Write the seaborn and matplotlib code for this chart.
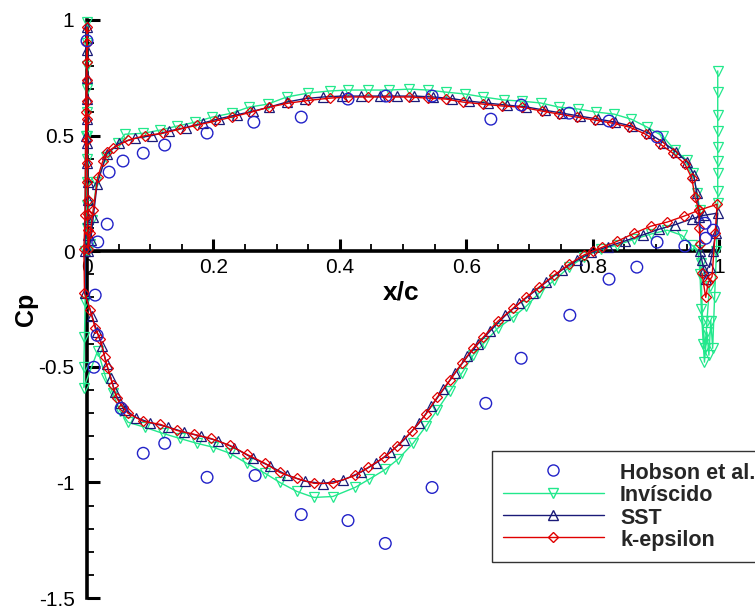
import matplotlib
matplotlib.use("Agg")
import matplotlib.pyplot as plt
from matplotlib.lines import Line2D
from matplotlib.ticker import MultipleLocator
import seaborn as sns
import pandas as pd

# ---------------- data ----------------
hobson_x = [0.0, 0.017, 0.032, 0.035, 0.057, 0.089, 0.123, 0.190, 0.264, 0.339, 0.413, 0.473,
            0.546, 0.639, 0.687, 0.763, 0.826, 0.902, 0.978, 0.991, 0.979, 0.946, 0.902, 0.870,
            0.826, 0.764, 0.687, 0.631, 0.546, 0.472, 0.413, 0.339, 0.266, 0.190, 0.123, 0.089,
            0.054, 0.011, 0.016, 0.013]
hobson_cp = [0.91, 0.04, 0.117, 0.342, 0.39, 0.424, 0.459, 0.511, 0.558, 0.58, 0.658, 0.671,
             0.671, 0.571, 0.632, 0.597, 0.563, 0.494, 0.121, 0.091, 0.056, 0.022, 0.039, -0.069,
             -0.121, -0.277, -0.463, -0.658, -1.022, -1.264, -1.165, -1.139, -0.97, -0.978, -0.831,
             -0.874, -0.68, -0.502, -0.364, -0.19]

# Invíscido: TE base -> pressure side -> LE -> suction side -> TE base spike
inv_x = [0.985, 0.981, 0.978, 0.974, 0.971,
         0.970, 0.965, 0.959, 0.949, 0.930, 0.911, 0.886, 0.861, 0.834, 0.805, 0.777, 0.747,
         0.718, 0.688, 0.660, 0.627, 0.598, 0.568, 0.540, 0.510, 0.478, 0.445, 0.413, 0.384,
         0.350, 0.316, 0.286, 0.256, 0.229, 0.198, 0.171, 0.142, 0.116, 0.089, 0.060, 0.049,
         0.030, 0.015, 0.008, 0.004,
         0.001, 0.0, 0.0, 0.0, 0.0, 0.0, 0.0, 0.0, 0.0, 0.0, 0.0,
         -0.002, -0.003, -0.003, -0.004, -0.005, -0.005,
         0.017, 0.030, 0.041, 0.052, 0.065, 0.092, 0.120, 0.147, 0.174, 0.200, 0.226, 0.253,
         0.282, 0.305, 0.332, 0.359, 0.389, 0.424, 0.446, 0.472, 0.492, 0.516, 0.536, 0.554,
         0.574, 0.593, 0.611, 0.628, 0.650, 0.674, 0.695, 0.715, 0.739, 0.763, 0.786, 0.813,
         0.839, 0.866, 0.892, 0.918, 0.941, 0.957, 0.967,
         0.970, 0.972, 0.975, 0.977, 0.981, 0.984, 0.987, 0.990, 0.993, 0.996,
         0.998, 0.998, 0.998, 0.998, 0.998, 0.998, 0.998, 0.998, 0.998]
inv_cp = [-0.15, -0.30, -0.42, -0.30, -0.05,
          0.177, 0.251, 0.338, 0.394, 0.437, 0.498, 0.537, 0.571, 0.593, 0.602, 0.615, 0.623,
          0.641, 0.649, 0.654, 0.667, 0.680, 0.688, 0.697, 0.701, 0.697, 0.697, 0.697, 0.693,
          0.684, 0.667, 0.636, 0.623, 0.597, 0.580, 0.558, 0.541, 0.524, 0.510, 0.506, 0.468,
          0.407, 0.30, 0.134, 0.03,
          0.0, 0.10, 0.20, 0.30, 0.40, 0.50, 0.60, 0.70, 0.80, 0.90, 0.99,
          0.50, 0.0, -0.22, -0.37, -0.50, -0.59,
          -0.43, -0.55, -0.615, -0.69, -0.74, -0.762, -0.788, -0.81, -0.831, -0.848, -0.874, -0.918,
          -0.961, -1.0, -1.039, -1.065, -1.061, -1.022, -0.987, -0.944, -0.90, -0.831, -0.758, -0.688,
          -0.606, -0.528, -0.45, -0.398, -0.333, -0.286, -0.238, -0.182, -0.126, -0.069, -0.026, 0.009,
          0.026, 0.052, 0.074, 0.091, 0.069, 0.026, 0.004,
          -0.10, -0.25, -0.40, -0.48, -0.35, -0.45, -0.30, -0.42, -0.20, 0.0,
          0.21, 0.26, 0.34, 0.39, 0.45, 0.52, 0.59, 0.69, 0.78]

# SST
sst_x = [0.980, 0.976, 0.973,
         0.970, 0.969, 0.965, 0.960, 0.950, 0.932, 0.912, 0.889, 0.863, 0.836, 0.808, 0.780,
         0.752, 0.724, 0.695, 0.664, 0.635, 0.605, 0.577, 0.548, 0.518, 0.490, 0.463, 0.434,
         0.404, 0.374, 0.345, 0.316, 0.288, 0.262, 0.237, 0.209, 0.183, 0.156, 0.130, 0.103,
         0.076, 0.050, 0.031, 0.016, 0.010, 0.006,
         0.002, 0.001, 0.001, 0.001, 0.001, 0.0005, 0.0005, 0.0, 0.0, 0.0, 0.0, 0.0,
         -0.002, -0.003, -0.003,
         0.008, 0.016, 0.024, 0.031, 0.038, 0.044, 0.052, 0.060, 0.078, 0.100, 0.128, 0.154,
         0.180, 0.207, 0.233, 0.262, 0.290, 0.316, 0.345, 0.373, 0.405, 0.434, 0.458, 0.480,
         0.502, 0.525, 0.545, 0.564, 0.583, 0.602, 0.619, 0.638, 0.662, 0.684, 0.705, 0.727,
         0.751, 0.775, 0.798, 0.824, 0.852, 0.879, 0.905, 0.931, 0.957, 0.976, 0.998,
         0.995, 0.990, 0.985]
sst_cp = [-0.12, -0.08, -0.04,
          0.00, 0.15, 0.25, 0.33, 0.385, 0.43, 0.47, 0.51, 0.54, 0.558, 0.572, 0.584,
          0.597, 0.610, 0.624, 0.632, 0.640, 0.649, 0.660, 0.667, 0.671, 0.671, 0.671, 0.671,
          0.671, 0.667, 0.660, 0.645, 0.623, 0.605, 0.590, 0.573, 0.554, 0.535, 0.52, 0.50,
          0.488, 0.466, 0.42, 0.29, 0.15, 0.05,
          0.0, 0.07, 0.14, 0.22, 0.30, 0.38, 0.47, 0.57, 0.66, 0.75, 0.87, 0.97,
          0.50, 0.0, -0.18,
          -0.28, -0.35, -0.41, -0.49, -0.55, -0.61, -0.655, -0.685, -0.72, -0.742, -0.76, -0.783,
          -0.80, -0.82, -0.85, -0.895, -0.93, -0.968, -0.995, -1.005, -0.99, -0.955, -0.915, -0.87,
          -0.815, -0.745, -0.67, -0.598, -0.525, -0.455, -0.40, -0.345, -0.278, -0.226, -0.18, -0.133,
          -0.082, -0.04, -0.005, 0.02, 0.045, 0.07, 0.095, 0.115, 0.14, 0.155, 0.165,
          0.08, 0.0, -0.07]

# k-epsilon
ke_x = [0.970, 0.969, 0.968, 0.962, 0.957, 0.946, 0.927, 0.907, 0.884, 0.858, 0.831, 0.804,
        0.775, 0.747, 0.720, 0.688, 0.657, 0.627, 0.595, 0.568, 0.540, 0.509, 0.478, 0.445,
        0.413, 0.384, 0.350, 0.318, 0.288, 0.258, 0.229, 0.203, 0.174, 0.147, 0.120, 0.092,
        0.065, 0.041, 0.032, 0.025, 0.017, 0.010, 0.005,
        0.002, 0.001, 0.001, 0.001, 0.0005, 0.0005, 0.0, 0.0, 0.0, 0.0, 0.0, 0.0, 0.0,
        -0.002, -0.003, -0.005, -0.004,
        0.005, 0.013, 0.021, 0.028, 0.033, 0.041, 0.047, 0.057, 0.065, 0.089, 0.116, 0.142,
        0.169, 0.196, 0.226, 0.253, 0.282, 0.305, 0.332, 0.359, 0.389, 0.424, 0.445, 0.470,
        0.490, 0.514, 0.536, 0.554, 0.574, 0.593, 0.611, 0.627, 0.650, 0.674, 0.695, 0.715,
        0.739, 0.763, 0.786, 0.800, 0.815, 0.839, 0.866, 0.892, 0.918, 0.945, 0.968, 0.997,
        0.994, 0.989, 0.983, 0.979, 0.973]
ke_cp = [0.03, 0.10, 0.177, 0.234, 0.316, 0.377, 0.424, 0.463, 0.506, 0.537, 0.554, 0.567,
         0.580, 0.593, 0.606, 0.623, 0.628, 0.636, 0.645, 0.658, 0.662, 0.667, 0.667, 0.667,
         0.667, 0.662, 0.652, 0.640, 0.623, 0.600, 0.580, 0.563, 0.545, 0.528, 0.510, 0.500,
         0.480, 0.446, 0.430, 0.390, 0.320, 0.18, 0.08,
         0.01, 0.09, 0.16, 0.22, 0.30, 0.38, 0.48, 0.57, 0.65, 0.74, 0.82, 0.90, 0.97,
         0.60, 0.156, 0.01, -0.18,
         -0.255, -0.333, -0.381, -0.459, -0.506, -0.580, -0.636, -0.675, -0.701, -0.736, -0.749, -0.775,
         -0.792, -0.810, -0.840, -0.879, -0.918, -0.957, -0.983, -1.004, -1.004, -0.970, -0.935, -0.892,
         -0.844, -0.779, -0.706, -0.632, -0.558, -0.485, -0.420, -0.372, -0.303, -0.247, -0.199, -0.156,
         -0.104, -0.056, -0.017, 0.0, 0.017, 0.043, 0.078, 0.108, 0.126, 0.152, 0.177, 0.203,
         0.08, -0.11, -0.134, -0.20, -0.095]

labels = ["Hobson et al.", "Invíscido", "SST", "k-epsilon"]
x_ticks = [0, 0.2, 0.4, 0.6, 0.8, 1]
x_ticklabels = ["0", "0.2", "0.4", "0.6", "0.8", "1"]
y_ticks = [-1.5, -1, -0.5, 0, 0.5, 1]
y_ticklabels = ["-1.5", "-1", "-0.5", "0", "0.5", "1"]

# ---------------- styling ----------------
sns.set_theme(style="white")
plt.rcParams["font.family"] = ["Liberation Sans", "DejaVu Sans"]

c_hob = "#2222c8"
c_inv = "#22e88c"
c_sst = "#1a1a78"
c_ke = "#e00000"

fig = plt.figure(figsize=(7.55, 6.08), dpi=100)
ax = fig.add_axes([87 / 755, 1 - 598 / 608, 632 / 755, 578 / 608])

df_inv = pd.DataFrame({"x": inv_x, "cp": inv_cp})
df_sst = pd.DataFrame({"x": sst_x, "cp": sst_cp})
df_ke = pd.DataFrame({"x": ke_x, "cp": ke_cp})
df_hob = pd.DataFrame({"x": hobson_x, "cp": hobson_cp})

common = dict(sort=False, estimator=None, legend=False, ax=ax, clip_on=False,
              linewidth=1.0, markerfacecolor="none", markeredgewidth=0.9)
sns.lineplot(data=df_inv, x="x", y="cp", color=c_inv, marker="v", markersize=6.5,
             markeredgecolor=c_inv, zorder=3, **common)
sns.lineplot(data=df_sst, x="x", y="cp", color=c_sst, marker="^", markersize=6.5,
             markeredgecolor=c_sst, zorder=4, **common)
sns.lineplot(data=df_ke, x="x", y="cp", color=c_ke, marker="D", markersize=5.0,
             markeredgecolor=c_ke, zorder=5, **common)
sns.scatterplot(data=df_hob, x="x", y="cp", marker="o", s=70, facecolors="none",
                edgecolor=c_hob, linewidth=1.0, legend=False, ax=ax, zorder=6, clip_on=False)

ax.set_xlim(0, 1)
ax.set_ylim(-1.5, 1)

for s in ["top", "right"]:
    ax.spines[s].set_visible(False)
ax.spines["bottom"].set_position(("data", 0))
for s in ["left", "bottom"]:
    ax.spines[s].set_linewidth(2.6)
    ax.spines[s].set_color("black")
    ax.spines[s].set_zorder(2)

ax.set_xticks(x_ticks)
ax.set_xticklabels(x_ticklabels)
ax.set_yticks(y_ticks)
ax.set_yticklabels(y_ticklabels)
ax.xaxis.set_minor_locator(MultipleLocator(0.05))
ax.yaxis.set_minor_locator(MultipleLocator(0.1))
ax.tick_params(axis="both", which="major", direction="in", length=9, width=2.2,
               color="black", labelsize=15, labelcolor="black")
ax.tick_params(axis="both", which="minor", direction="in", length=5, width=1.3, color="black")
ax.tick_params(axis="x", which="major", pad=5)
ax.tick_params(axis="y", which="major", pad=9)
ax.tick_params(left=True, bottom=True, which="both")

ax.set_xlabel("x/c", fontsize=19, fontweight="bold", color="black")
ax.set_ylabel("Cp", fontsize=18, fontweight="bold", color="black")
ax.xaxis.set_label_coords(0.497, 0.55)
ax.yaxis.set_label_coords(-0.078, 0.50)

handles = [
    Line2D([], [], linestyle="none", marker="o", markersize=8, markerfacecolor="none",
           markeredgecolor=c_hob, markeredgewidth=1.0),
    Line2D([], [], color=c_inv, linewidth=1.0, marker="v", markersize=6.5,
           markerfacecolor="none", markeredgecolor=c_inv),
    Line2D([], [], color=c_sst, linewidth=1.0, marker="^", markersize=6.5,
           markerfacecolor="none", markeredgecolor=c_sst),
    Line2D([], [], color=c_ke, linewidth=1.0, marker="D", markersize=5.0,
           markerfacecolor="none", markeredgecolor=c_ke),
]
leg = ax.legend(handles, labels, loc="upper left",
                bbox_to_anchor=(492 / 755, 1 - 451 / 608), bbox_transform=fig.transFigure,
                prop={"family": "Liberation Sans", "weight": "bold", "size": 15.5},
                numpoints=1, handlelength=4.7, handletextpad=0.75, labelspacing=0.0,
                handleheight=1.04, borderpad=0.5, borderaxespad=0, frameon=True,
                fancybox=False, framealpha=1, edgecolor="#333333")
leg.get_frame().set_linewidth(1.0)
leg.set_zorder(10)

fig.savefig("out.png", dpi=100)
